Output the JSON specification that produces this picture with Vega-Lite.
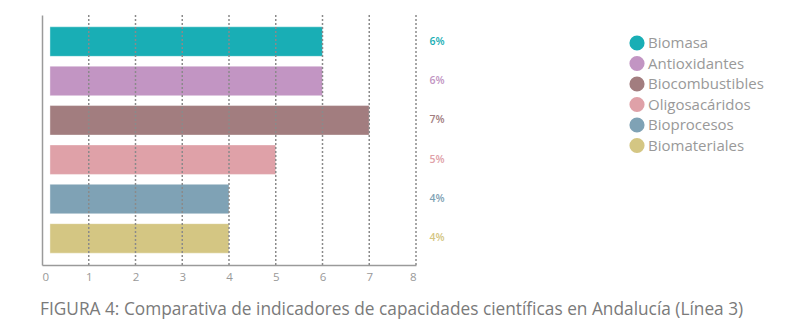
{
  "$schema": "https://vega.github.io/schema/vega-lite/v6.json",
  "width": 374,
  "height": 250,
  "autosize": {"type": "none"},
  "padding": {"left": 42, "top": 15, "right": 384, "bottom": 61},
  "background": "white",
  "config": {
    "view": {"stroke": null},
    "font": "Open Sans"
  },
  "title": {
    "text": "FIGURA 4: Comparativa de indicadores de capacidades científicas en Andalucía (Línea 3)",
    "orient": "bottom",
    "anchor": "start",
    "frame": "group",
    "dx": -2,
    "offset": 18,
    "fontSize": 17.3,
    "font": "Open Sans",
    "fontWeight": "normal",
    "color": "#7a7a7a"
  },
  "data": {
    "values": [
      {"linea": "Biomasa", "valor": 6, "label": "6%"},
      {"linea": "Antioxidantes", "valor": 6, "label": "6%"},
      {"linea": "Biocombustibles", "valor": 7, "label": "7%"},
      {"linea": "Oligosacáridos", "valor": 5, "label": "5%"},
      {"linea": "Bioprocesos", "valor": 4, "label": "4%"},
      {"linea": "Biomateriales", "valor": 4, "label": "4%"}
    ]
  },
  "encoding": {
    "y": {
      "field": "linea",
      "type": "nominal",
      "sort": null,
      "scale": {"paddingInner": 0.25, "paddingOuter": 0.3},
      "axis": {"labels": false, "ticks": false, "title": null, "domainColor": "#9a9a9a", "domainWidth": 1.5}
    },
    "color": {
      "field": "linea",
      "type": "nominal",
      "sort": null,
      "scale": {
        "domain": ["Biomasa", "Antioxidantes", "Biocombustibles", "Oligosacáridos", "Bioprocesos", "Biomateriales"],
        "range": ["#19aeb5", "#c295c3", "#a27d7f", "#dfa1a8", "#7fa2b5", "#d4c683"]
      },
      "legend": {
        "orient": "none",
        "legendX": 587,
        "legendY": 20,
        "title": null,
        "symbolType": "circle",
        "symbolSize": 230,
        "symbolOpacity": 1,
        "symbolStrokeWidth": 0,
        "labelFontSize": 15,
        "labelFont": "Open Sans",
        "labelColor": "#999999",
        "labelOffset": 3,
        "rowPadding": 4.5
      }
    }
  },
  "layer": [
    {
      "mark": {"type": "bar", "stroke": "white", "strokeOpacity": 0.4, "strokeWidth": 1},
      "encoding": {
        "x": {
          "field": "valor",
          "type": "quantitative",
          "scale": {"domain": [0, 8]},
          "axis": {
            "values": [0, 1, 2, 3, 4, 5, 6, 7, 8],
            "title": null,
            "ticks": false,
            "grid": false,
            "domainColor": "#9a9a9a",
            "domainWidth": 1.5,
            "labelColor": "#999999",
            "labelFontSize": 11.5,
            "labelFont": "Open Sans",
            "labelPadding": 6
          }
        },
        "x2": {"datum": 0.17}
      }
    },
    {
      "data": {"values": [{"g": 1}, {"g": 2}, {"g": 3}, {"g": 4}, {"g": 5}, {"g": 6}, {"g": 7}, {"g": 8}]},
      "mark": {"type": "rule", "color": "#8a8a8a", "strokeWidth": 1.5, "strokeDash": [2, 2]},
      "encoding": {
        "x": {"field": "g", "type": "quantitative"},
        "y": null,
        "color": null
      }
    },
    {
      "mark": {"type": "text", "fontSize": 10.5, "fontWeight": 600, "font": "Open Sans", "align": "center", "baseline": "middle"},
      "encoding": {
        "x": {"datum": 8.45},
        "text": {"field": "label"}
      }
    }
  ]
}
